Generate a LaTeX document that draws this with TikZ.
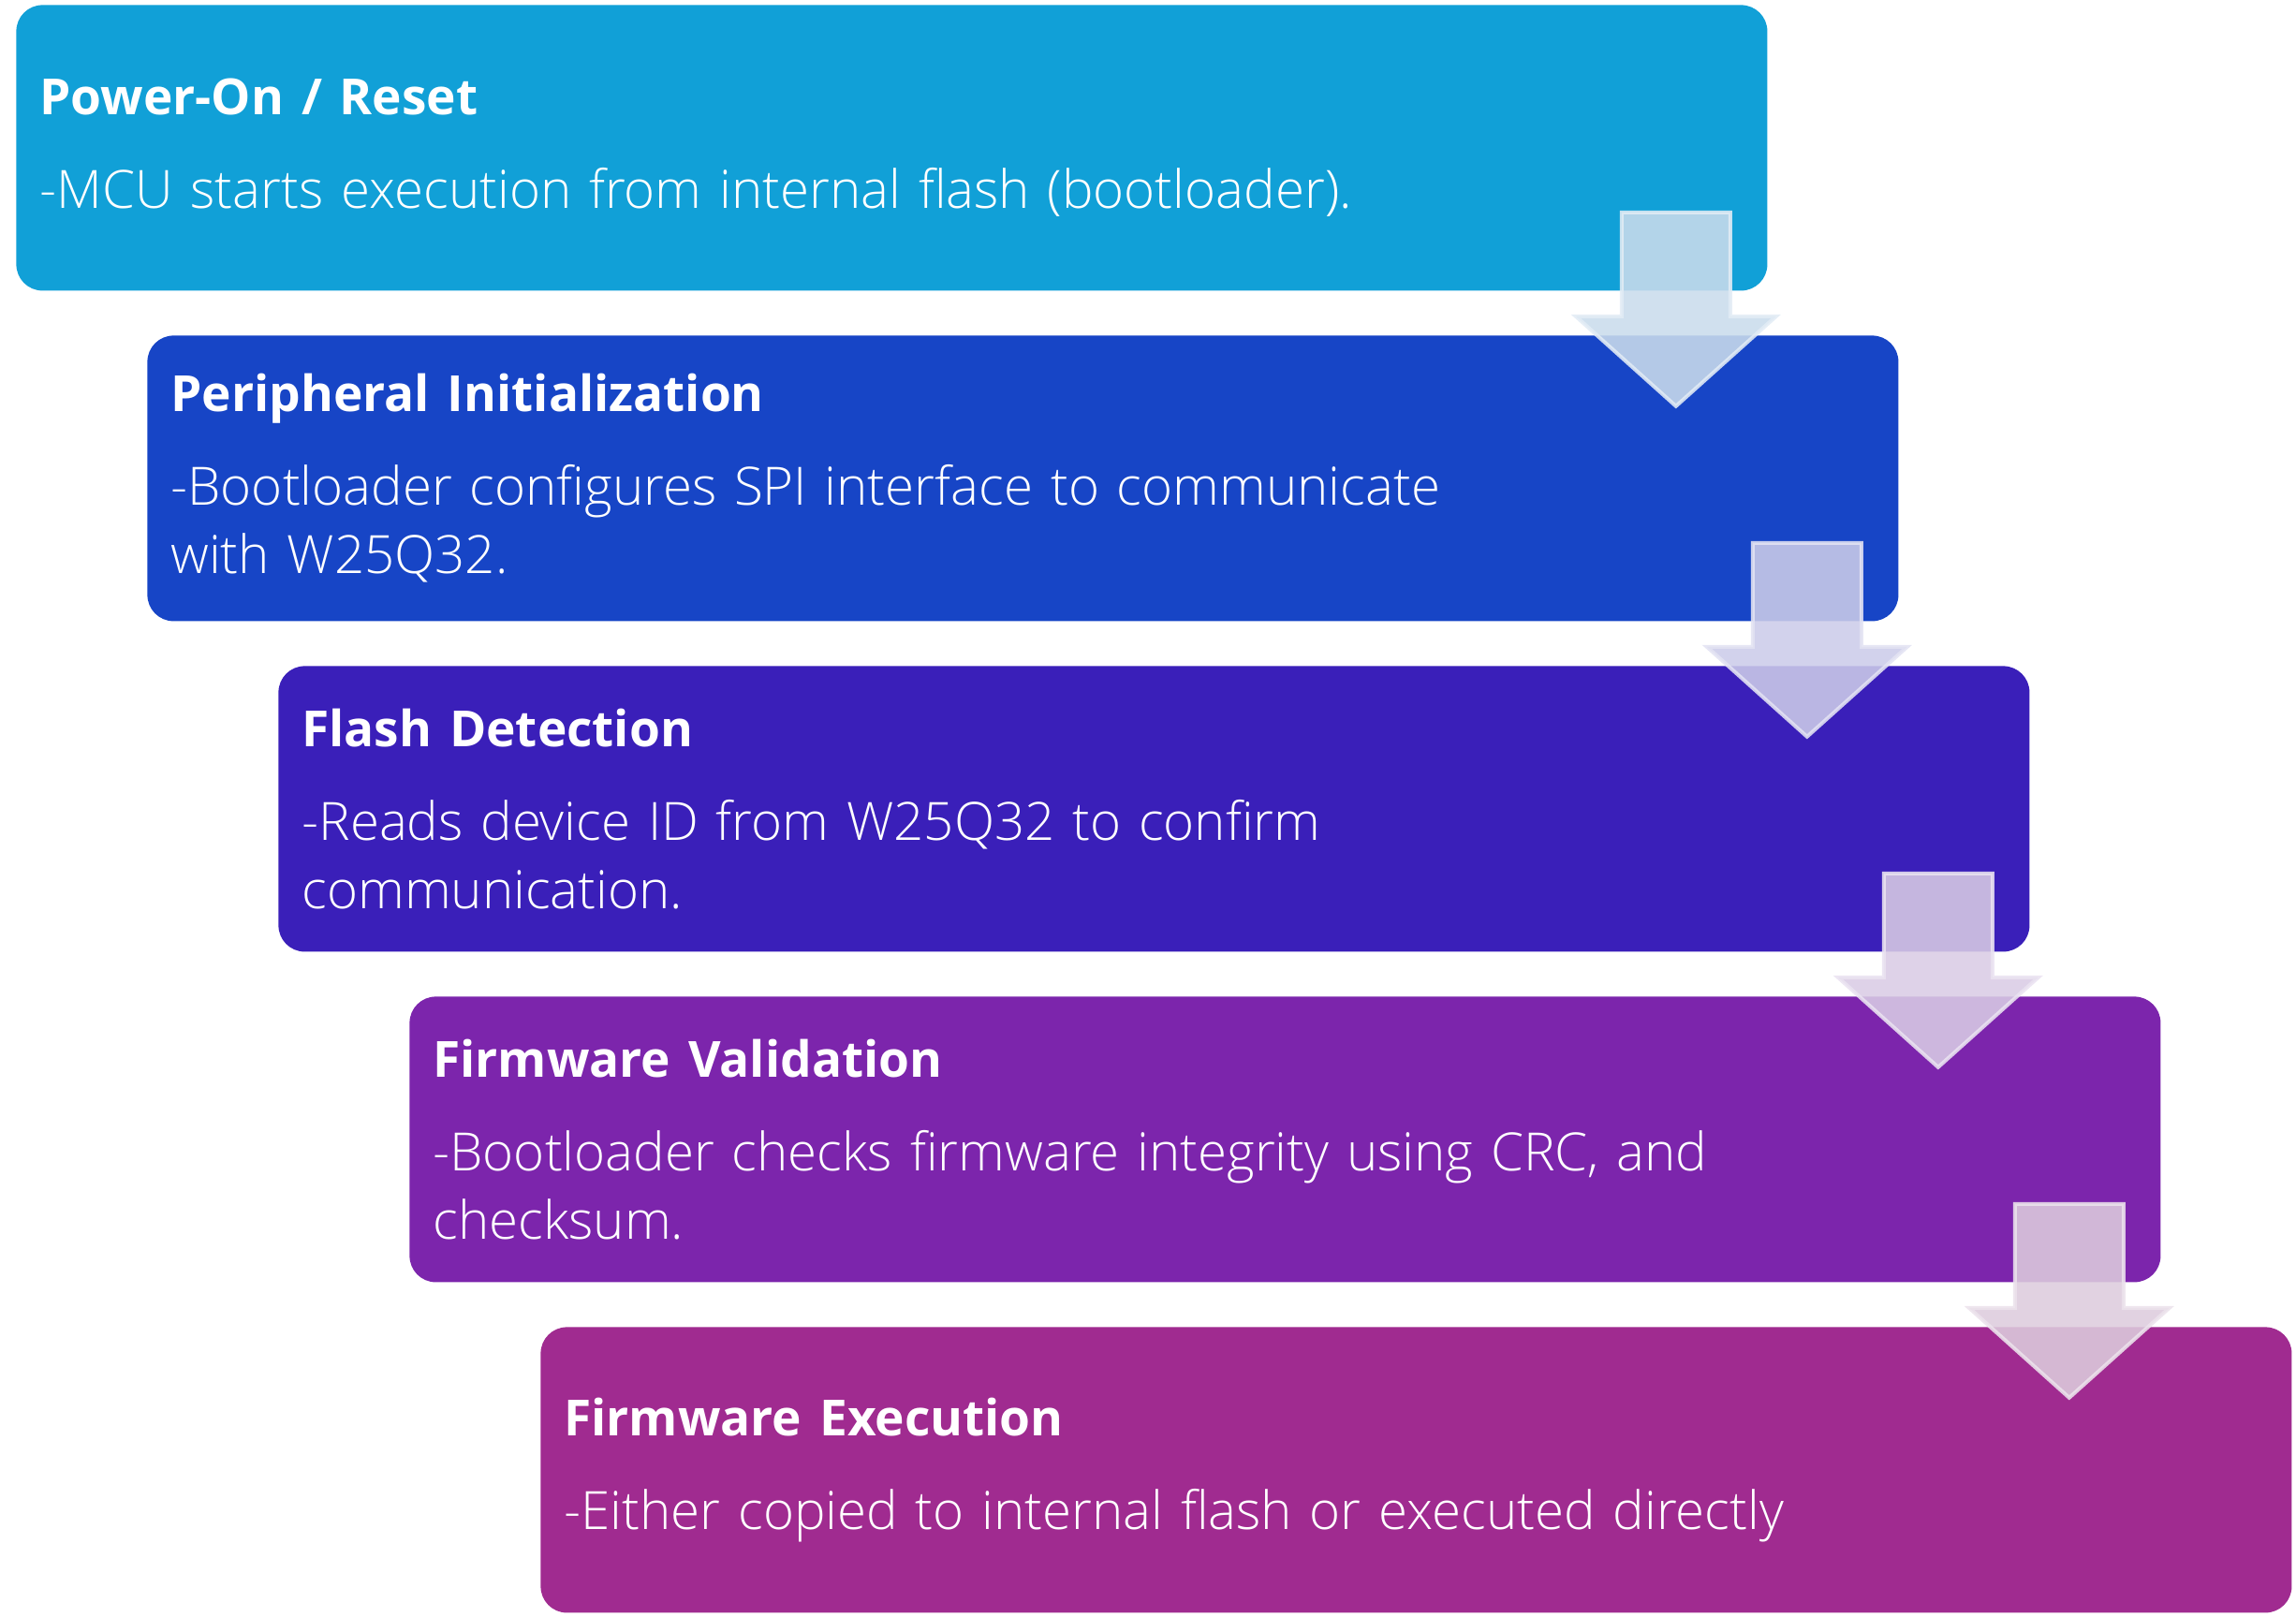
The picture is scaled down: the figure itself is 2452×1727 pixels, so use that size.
\documentclass[tikz,border=0pt]{standalone}
\usepackage{fontspec}
\setmainfont{Open Sans}
\newfontfamily\bodyfont{Open Sans Light}
\usetikzlibrary{positioning, calc}

\definecolor{stepA}{RGB}{17,160,215}
\definecolor{stepB}{RGB}{23,69,198}
\definecolor{stepC}{RGB}{58,31,185}
\definecolor{stepD}{RGB}{124,37,172}
\definecolor{stepE}{RGB}{160,43,144}
\definecolor{arA}{RGB}{202,220,236}
\definecolor{arB}{RGB}{204,204,233}
\definecolor{arC}{RGB}{217,204,229}
\definecolor{arD}{RGB}{221,204,221}

\tikzset{
  stepbox/.style={rectangle, rounded corners=14pt, minimum width=935pt,
    minimum height=152.5pt, inner xsep=12pt, text width=910pt,
    align=left, text=white, font=\fontsize{28.2}{36.5}\selectfont\bodyfont},
  flowarrow/.style={fill=#1, draw=#1!55!white, fill opacity=0.88,
    draw opacity=0.88, line width=2pt},
  pics/downarrow/.style={code={
    \path[pic actions] (-58,0) -- (58,0) -- (58,111) -- (107,111)
      -- (0,207) -- (-107,111) -- (-58,111) -- cycle;
  }},
}
\newcommand{\steptitle}[1]{{\normalfont\fontsize{26.6}{36.5}\selectfont\bfseries #1}}

\begin{document}
\begin{tikzpicture}[x=0.5pt, y=-0.5pt]
  \useasboundingbox (0,0) rectangle (2452,1727);

  % boot steps
  \node[stepbox, fill=stepA, anchor=north west] (reset) at (17,5)
    {\steptitle{Power-On / Reset}\\[13.5pt]-MCU starts execution from internal flash (bootloader).};
  \node[stepbox, fill=stepB, below right=23.6pt and 70pt of reset.south west] (periph)
    {\steptitle{Peripheral Initialization}\\[13.5pt]-Bootloader configures SPI interface to communicate\\with W25Q32.};
  \node[stepbox, fill=stepC, below right=23.6pt and 70pt of periph.south west] (detect)
    {\steptitle{Flash Detection}\\[13.5pt]-Reads device ID from W25Q32 to confirm\\communication.};
  \node[stepbox, fill=stepD, below right=23.6pt and 70pt of detect.south west] (valid)
    {\steptitle{Firmware Validation}\\[13.5pt]-Bootloader checks firmware integrity using CRC, and\\checksum.};
  \node[stepbox, fill=stepE, below right=23.6pt and 70pt of valid.south west] (exec)
    {\steptitle{Firmware Execution}\\[13.5pt]-Either copied to internal flash or executed directly};

  % arrows between steps
  \coordinate (a1) at ($(reset.south east)+(-98,-84)$);
  \coordinate (a2) at ($(periph.south east)+(-98,-84)$);
  \coordinate (a3) at ($(detect.south east)+(-98,-84)$);
  \coordinate (a4) at ($(valid.south east)+(-98,-84)$);
  \pic[flowarrow=arA] at (a1) {downarrow};
  \pic[flowarrow=arB] at (a2) {downarrow};
  \pic[flowarrow=arC] at (a3) {downarrow};
  \pic[flowarrow=arD] at (a4) {downarrow};
\end{tikzpicture}
\end{document}
